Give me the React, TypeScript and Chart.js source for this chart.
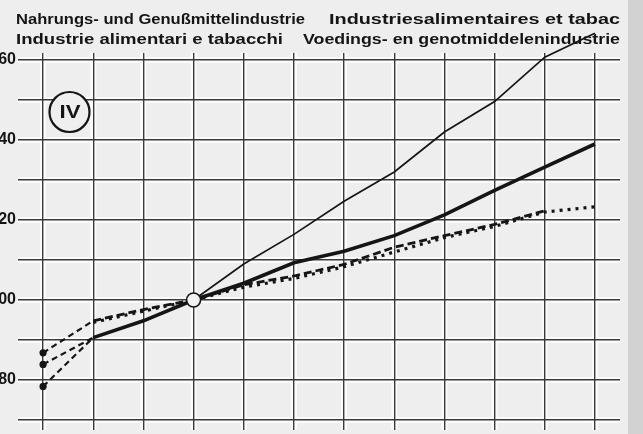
import React, { useEffect, useRef } from 'react';
import { Chart, registerables } from 'chart.js';

Chart.register(...registerables);

// x positions (years, base year at index 3)
const periods = [0, 1, 2, 3, 4, 5, 6, 7, 8, 9, 10, 11];
const thickSeries = [78.4, 90.6, 94.8, 100, 104.2, 109.3, 112.2, 116.1, 121.3, 127.4, 133.2, 139.0];
const thinSeries = [83.9, 90.6, 94.8, 100, 109.0, 116.4, 124.7, 132.0, 142.0, 149.6, 160.7, 166.7];
const dashedSeries = [86.8, 94.8, 97.6, 100, 103.8, 106.0, 108.9, 113.2, 116.1, 118.9, 122.3, null];
const dottedSeries = [null, 94.4, 97.2, 100, 103.2, 105.4, 108.3, 112.0, 115.6, 118.4, 122.0, 123.3];
const gridValues = [70, 80, 90, 100, 110, 120, 130, 140, 150, 160];
const tickLabels = [80, 100, 120, 140, 160];
const baseIndex = 3;
const titleLeft = ['Nahrungs- und Genußmittelindustrie', 'Industrie alimentari e tabacchi'];
const titleRight = ['Industriesalimentaires et tabac', 'Voedings- en genotmiddelenindustrie'];
const panelLabel = 'IV';

const SHIFT = 20;
const W = 643 + SHIFT;
const H = 434;
const INK = '#151515';

function fitText(ctx: CanvasRenderingContext2D, text: string, x0: number, x1: number, y: number) {
  const w = ctx.measureText(text).width;
  ctx.save();
  ctx.translate(x0 + SHIFT, y);
  ctx.scale((x1 - x0) / w, 1);
  ctx.fillText(text, 0, 0);
  ctx.restore();
}

const decor = {
  id: 'decor',
  beforeDraw(chart: any) {
    const { ctx, chartArea: a, scales } = chart;
    ctx.save();
    ctx.fillStyle = '#eeeeee';
    ctx.fillRect(0, 0, chart.width, chart.height);
    ctx.fillStyle = '#d2d2d2';
    ctx.fillRect(628 + SHIFT, 0, chart.width, chart.height);
    ctx.fillStyle = '#fbfbfb';
    periods.forEach((p) => {
      const px = scales.x.getPixelForValue(p);
      ctx.fillRect(px - 3, a.top, 6, a.bottom - a.top);
    });
    gridValues.forEach((v) => {
      const py = scales.y.getPixelForValue(v);
      ctx.fillRect(a.left, py - 3, a.right - a.left, 6);
    });
    ctx.fillStyle = INK;
    ctx.font = 'bold 15px "Liberation Sans", Arial, sans-serif';
    ctx.textBaseline = 'alphabetic';
    ctx.textAlign = 'left';
    fitText(ctx, titleLeft[0], 16, 305, 24);
    fitText(ctx, titleRight[0], 329, 620, 24);
    fitText(ctx, titleLeft[1], 16, 283, 44);
    fitText(ctx, titleRight[1], 303, 620, 44);
    ctx.restore();
  },
  afterDraw(chart: any) {
    const { ctx } = chart;
    ctx.save();
    ctx.beginPath();
    ctx.arc(69.5 + SHIFT, 112, 20, 0, Math.PI * 2);
    ctx.fillStyle = '#efefef';
    ctx.fill();
    ctx.lineWidth = 2.2;
    ctx.strokeStyle = INK;
    ctx.stroke();
    ctx.fillStyle = INK;
    ctx.font = 'bold 17px "Liberation Sans", Arial, sans-serif';
    ctx.textBaseline = 'middle';
    ctx.textAlign = 'left';
    const w = ctx.measureText(panelLabel).width;
    ctx.translate(59.5 + SHIFT, 113);
    ctx.scale(21 / w, 1.05);
    ctx.fillText(panelLabel, 0, 0);
    ctx.restore();
  },
};

const firstDash = (w: number) => ({
  borderDash: (c: any) => (c.p0DataIndex === 0 ? [6, 4] : undefined),
  borderWidth: (c: any) => (c.p0DataIndex === 0 ? w : undefined),
});

const toPts = (arr: (number | null)[]) => arr.map((v, i) => ({ x: periods[i], y: v }));

export default function App() {
  const ref = useRef<HTMLCanvasElement>(null);
  useEffect(() => {
    if (!ref.current) return;
    const chart = new Chart(ref.current, {
      type: 'line',
      data: {
        datasets: [
          {
            data: toPts(thickSeries),
            borderColor: INK,
            borderWidth: 3.6,
            segment: firstDash(2.2),
            pointRadius: (c: any) => (c.dataIndex === 0 ? 3.6 : c.dataIndex === baseIndex ? 7 : 0),
            pointBackgroundColor: (c: any) => (c.dataIndex === baseIndex ? '#f2f2f2' : INK),
            pointBorderColor: INK,
            pointBorderWidth: (c: any) => (c.dataIndex === baseIndex ? 1.6 : 0),
            tension: 0,
          },
          {
            data: toPts(thinSeries),
            borderColor: INK,
            borderWidth: 1.7,
            segment: firstDash(2.2),
            pointRadius: (c: any) => (c.dataIndex === 0 ? 3.6 : 0),
            pointBackgroundColor: INK,
            pointBorderWidth: 0,
            clip: false,
            tension: 0,
          },
          {
            data: toPts(dashedSeries),
            borderColor: INK,
            borderWidth: 2.8,
            borderDash: [8, 4],
            segment: firstDash(2.2),
            pointRadius: (c: any) => (c.dataIndex === 0 ? 3.6 : 0),
            pointBackgroundColor: INK,
            pointBorderWidth: 0,
            tension: 0,
          },
          {
            data: toPts(dottedSeries),
            borderColor: INK,
            borderWidth: 3.2,
            borderDash: [3, 5],
            pointRadius: 0,
            tension: 0,
          },
        ] as any,
      },
      options: {
        animation: false,
        responsive: false,
        devicePixelRatio: 1,
        layout: { padding: { top: 53, right: 23, bottom: 2, left: 0 } },
        plugins: {
          legend: { display: false },
          tooltip: { enabled: false },
          title: { display: false },
        },
        scales: {
          x: {
            type: 'linear',
            min: -0.5,
            max: 11.5,
            afterBuildTicks: (s: any) => {
              s.ticks = periods.map((v) => ({ value: v }));
            },
            afterFit: (s: any) => {
              s.height = 0;
              s.paddingLeft = 0;
              s.paddingRight = 0;
            },
            grid: { color: '#3a3a3a', lineWidth: 1.4, drawTicks: false },
            border: { display: false },
            ticks: { display: false },
          },
          y: {
            type: 'linear',
            min: 67.5,
            max: 161.75,
            afterBuildTicks: (s: any) => {
              s.ticks = gridValues.map((v) => ({ value: v }));
            },
            afterFit: (s: any) => {
              s.width = 38;
              s.paddingTop = 0;
              s.paddingBottom = 0;
            },
            grid: { color: '#3a3a3a', lineWidth: 1.4, drawTicks: false },
            border: { display: false },
            ticks: {
              autoSkip: false,
              padding: 2,
              color: INK,
              font: { family: '"Liberation Sans", Arial, sans-serif', size: 16, weight: 'bold' },
              callback: (v: any) => (tickLabels.includes(Number(v)) ? String(v) : ''),
            },
          },
        },
      } as any,
      plugins: [decor],
    });
    return () => chart.destroy();
  }, []);
  return (
    <div style={{ position: 'absolute', left: -SHIFT, top: 0, width: W, height: H, overflow: 'hidden' }}>
      <canvas ref={ref} width={W} height={H} style={{ display: 'block', width: W, height: H }} />
    </div>
  );
}
